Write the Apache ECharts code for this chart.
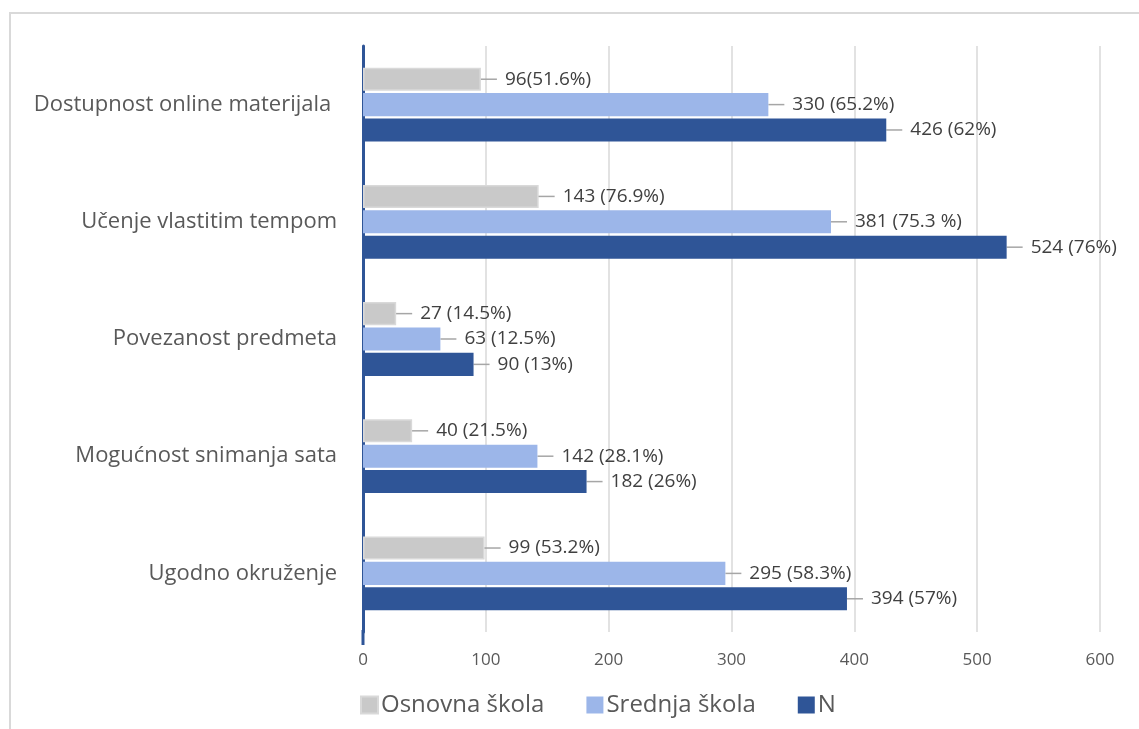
<!DOCTYPE html>
<html>
<head>
<meta charset="utf-8">
<script src="https://cdn.jsdelivr.net/npm/echarts@6/dist/echarts.min.js"></script>
<style>
  html, body { margin: 0; padding: 0; background: #fff; }
  #chart { width: 1139px; height: 729px; }
</style>
</head>
<body>
<div id="chart"></div>
<script>
  // categories top to bottom
  const categories = [
    'Dostupnost online materijala ',
    'Učenje vlastitim tempom',
    'Povezanost predmeta',
    'Mogućnost snimanja sata',
    'Ugodno okruženje'
  ]
  const seriesNames = ['Osnovna škola', 'Srednja škola', 'N']

  const osnovna = [96, 143, 27, 40, 99]
  const srednja = [330, 381, 63, 142, 295]
  const ukupno = [426, 524, 90, 182, 394]

  const osnovnaLabels = ['96(51.6%)', '143 (76.9%)', '27 (14.5%)', '40 (21.5%)', '99 (53.2%)']
  const srednjaLabels = ['330 (65.2%)', '381 (75.3 %)', '63 (12.5%)', '142 (28.1%)', '295 (58.3%)']
  const ukupnoLabels = ['426 (62%)', '524 (76%)', '90 (13%)', '182 (26%)', '394 (57%)']

  const xTicks = [0, 100, 200, 300, 400, 500, 600]

  const colors = ['#C9C9C9', '#9CB6E9', '#2F5597']
  const fontFam = '"Open Sans", sans-serif'

  let chart = echarts.init(document.getElementById('chart'))

  function makeSeries (name, values, labels, color, border) {
    return {
      name: name,
      type: 'bar',
      data: values,
      barGap: '10%',
      barCategoryGap: '37%',
      itemStyle: {
        color: color,
        borderColor: border,
        borderWidth: border ? 1.5 : 0
      },
      label: {
        show: true,
        position: 'right',
        distance: 0,
        color: '#404040',
        fontSize: 19,
        fontFamily: fontFam,
        formatter: function (p) { return '{g|}' + labels[p.dataIndex] },
        rich: { g: { width: 8 } }
      },
      labelLayout: { dx: 16 },
      labelLine: {
        show: true,
        lineStyle: { color: '#A6A6A6', width: 1.5 }
      }
    }
  }

  chart.setOption({
    backgroundColor: '#fff',
    animation: false,
    graphic: [{
      type: 'rect',
      shape: { x: 10, y: 13, width: 1200, height: 800 },
      style: { fill: 'none', stroke: '#D9D9D9', lineWidth: 2 },
      silent: true
    }, {
      type: 'line',
      shape: { x1: 363, y1: 630, x2: 363, y2: 645 },
      style: { stroke: '#2F5597', lineWidth: 3 },
      silent: true
    }],
    grid: {
      left: 363,
      right: 39,
      top: 46,
      bottom: 97
    },
    legend: {
      data: seriesNames,
      left: 355,
      top: 688,
      icon: 'rect',
      itemWidth: 17,
      itemHeight: 17,
      itemGap: 42,
      textStyle: { color: '#595959', fontSize: 24, fontFamily: fontFam, padding: [0, 0, 0, -2] }
    },
    xAxis: {
      type: 'value',
      min: xTicks[0],
      max: xTicks[xTicks.length - 1],
      interval: 100,
      axisLine: { show: false },
      axisTick: { show: false },
      axisLabel: { color: '#595959', fontSize: 17, fontFamily: fontFam, margin: 20 },
      splitLine: { lineStyle: { color: '#D9D9D9', width: 1.5 } }
    },
    yAxis: {
      type: 'category',
      data: categories,
      inverse: true,
      axisLine: { lineStyle: { color: '#2F5597', width: 3 } },
      axisTick: { show: false },
      axisLabel: { color: '#595959', fontSize: 22, fontFamily: fontFam, margin: 26 }
    },
    series: [
      makeSeries(seriesNames[0], osnovna, osnovnaLabels, colors[0], '#D9D9D9'),
      makeSeries(seriesNames[1], srednja, srednjaLabels, colors[1]),
      makeSeries(seriesNames[2], ukupno, ukupnoLabels, colors[2])
    ]
  })
</script>
</body>
</html>
